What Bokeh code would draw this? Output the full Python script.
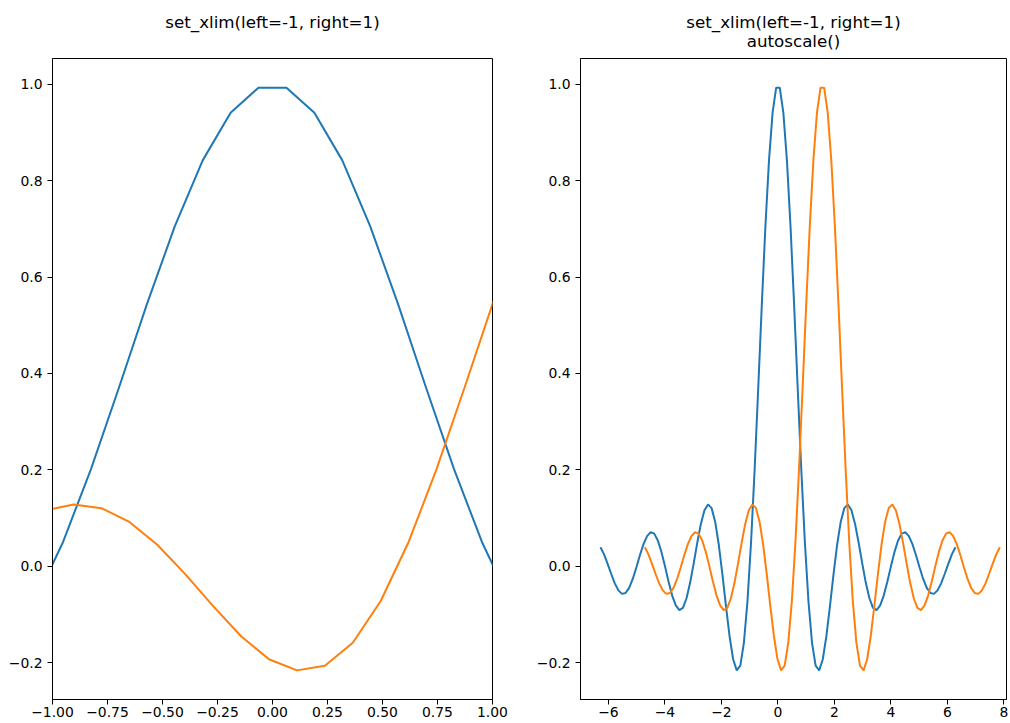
from bokeh.plotting import figure
from bokeh.layouts import row
from bokeh.models import FixedTicker, CustomJSTickFormatter, Range1d, Title
from bokeh.embed import file_html
from bokeh.resources import INLINE

# sample positions (positive half; the curve is symmetric about x = 0)
x_pos = [0.0635, 0.1904, 0.3173, 0.4443, 0.5712, 0.6981, 0.8251, 0.9520, 1.0789, 1.2059,
         1.3328, 1.4597, 1.5867, 1.7136, 1.8405, 1.9675, 2.0944, 2.2213, 2.3483, 2.4752,
         2.6021, 2.7291, 2.8560, 2.9829, 3.1099, 3.2368, 3.3637, 3.4907, 3.6176, 3.7445,
         3.8715, 3.9984, 4.1253, 4.2523, 4.3792, 4.5061, 4.6331, 4.7600, 4.8869, 5.0139,
         5.1408, 5.2677, 5.3947, 5.5216, 5.6485, 5.7755, 5.9024, 6.0293, 6.1563, 6.2832]
# curve values at those positions
y_pos = [0.99339, 0.94143, 0.84239, 0.70553, 0.54338, 0.37043, 0.20151, 0.05023, -0.07241, -0.15907,
         -0.20663, -0.21632, -0.19323, -0.14548, -0.08306, -0.01651, 0.04441, 0.09180, 0.12044, 0.12821,
         0.11609, 0.08772, 0.04872, 0.00574, -0.03463, -0.06659, -0.08650, -0.09115, -0.08138, -0.06111,
         -0.03222, -0.00040, 0.02960, 0.05334, 0.06751, 0.07063, 0.06230, 0.04578, 0.02263, -0.00276,
         -0.02650, -0.04504, -0.05580, -0.05752, -0.05033, -0.03573, -0.01628, 0.00486, 0.02437, 0.03936]

x_values = [-v for v in reversed(x_pos)] + x_pos
y_values = list(reversed(y_pos)) + y_pos
orange_offset = 1.5708
x_shifted = [v + orange_offset for v in x_values]

left_xticks = [-1.0, -0.75, -0.5, -0.25, 0.0, 0.25, 0.5, 0.75, 1.0]
left_xlabels = ["\u22121.00", "\u22120.75", "\u22120.50", "\u22120.25", "0.00", "0.25", "0.50", "0.75", "1.00"]
right_xticks = [-6, -4, -2, 0, 2, 4, 6, 8]
right_xlabels = ["\u22126", "\u22124", "\u22122", "0", "2", "4", "6", "8"]
y_ticks = [-0.2, 0.0, 0.2, 0.4, 0.6, 0.8, 1.0]
y_labels = ["\u22120.2", "0.0", "0.2", "0.4", "0.6", "0.8", "1.0"]

title_main = "set_xlim(left=-1, right=1)"
title_sub_left = " "
title_sub_right = "autoscale()"

BLUE = "#1f77b4"
ORANGE = "#ff7f0e"
FONT = "DejaVu Sans"

ymin, ymax = min(y_values), max(y_values)
ypad = 0.05 * (ymax - ymin)
all_x = x_values + x_shifted
xpad = 0.05 * (max(all_x) - min(all_x))

JS = """
for (let i = 0; i < tick_vals.length; i++) {
    if (Math.abs(tick - tick_vals[i]) < 1e-6) { return tick_labels[i]; }
}
return "";
"""


def fmt(tv, tl):
    return CustomJSTickFormatter(args=dict(tick_vals=tv, tick_labels=tl), code=JS)


def make_title(text, standoff, fallback):
    t = Title(text=text, align="center", text_font=FONT, text_font_size="16.7px",
              text_font_style="normal", text_color="black")
    try:
        t.standoff = standoff
    except Exception:
        t.standoff = fallback
    return t


def style(p, xticks, xlabels):
    p.outline_line_color = "black"
    p.outline_line_width = 1
    p.outline_line_alpha = 1
    p.xgrid.visible = False
    p.ygrid.visible = False
    p.background_fill_color = "white"
    p.border_fill_color = "white"
    for ax in (p.xaxis[0], p.yaxis[0]):
        ax.axis_line_color = "black"
        ax.axis_line_width = 1
        ax.major_tick_line_color = "black"
        ax.major_tick_line_width = 1
        ax.major_tick_out = 5
        ax.major_tick_in = 0
        ax.minor_tick_line_color = None
        ax.major_label_text_font = FONT
        ax.major_label_text_font_size = "13.9px"
        ax.major_label_text_color = "black"
    p.xaxis[0].major_label_standoff = 2
    p.yaxis[0].major_label_standoff = 5
    p.xaxis[0].ticker = FixedTicker(ticks=xticks)
    p.xaxis[0].formatter = fmt(xticks, xlabels)
    p.yaxis[0].ticker = FixedTicker(ticks=y_ticks)
    p.yaxis[0].formatter = fmt(y_ticks, y_labels)


H = 722
p1 = figure(width=520, height=H, output_backend="svg", toolbar_location=None, title=None,
            x_range=Range1d(-1, 1), y_range=Range1d(ymin - ypad, ymax + ypad),
            min_border_left=52, min_border_right=28, min_border_top=58, min_border_bottom=23)
p1.line(x_values, y_values, line_color=BLUE, line_width=2)
p1.line(x_shifted, y_values, line_color=ORANGE, line_width=2)
style(p1, left_xticks, left_xlabels)
p1.add_layout(make_title(title_sub_left, 15, 5), "above")
p1.add_layout(make_title(title_main, -20, 0), "above")

p2 = figure(width=489, height=H, output_backend="svg", toolbar_location=None, title=None,
            x_range=Range1d(min(all_x) - xpad, 8.09), y_range=Range1d(ymin - ypad, ymax + ypad),
            min_border_left=60, min_border_right=3, min_border_top=58, min_border_bottom=23)
p2.line(x_values, y_values, line_color=BLUE, line_width=2)
p2.line(x_shifted, y_values, line_color=ORANGE, line_width=2)
style(p2, right_xticks, right_xlabels)
p2.add_layout(make_title(title_sub_right, 15, 5), "above")
p2.add_layout(make_title(title_main, -20, 0), "above")

layout = row(p1, p2)
open("out.html", "w").write(file_html(layout, INLINE))
